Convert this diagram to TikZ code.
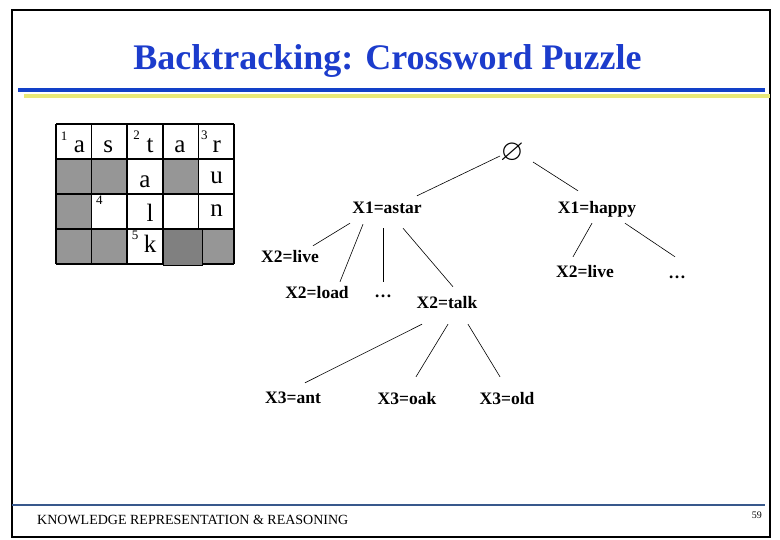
\documentclass[tikz,border=0pt]{standalone}
\usepackage{fontspec}
\setmainfont{Liberation Serif}
\usepackage{amssymb}
\usepackage{tikz}

\definecolor{titleblue}{RGB}{28,60,204}
\definecolor{barblue}{RGB}{18,64,200}
\definecolor{baryellow}{RGB}{232,232,120}
\definecolor{footblue}{RGB}{56,88,140}
\definecolor{cellgray}{RGB}{150,150,150}
\definecolor{celldark}{RGB}{128,128,128}

\begin{document}
\begin{tikzpicture}[x=1pt,y=-1pt]
			\tikzstyle{every node}=[inner sep=0pt]
			\tikzstyle{state}=[font=\fontsize{17.5}{19}\selectfont\bfseries, text height=12pt, text depth=0pt]
			\tikzstyle{letter}=[font=\fontsize{25}{27}\selectfont, anchor=base]
			\tikzstyle{clue}=[font=\fontsize{13}{14}\selectfont]
			\tikzstyle{gridline}=[line width=1.6pt, black]
			\tikzstyle{branch}=[line width=0.6pt, black]
			\useasboundingbox (0,0) rectangle (780,540);
			\draw[line width=1.2pt] (12,10) rectangle (770,537);

			\node[anchor=base, text=titleblue, font=\fontsize{36}{40}\selectfont\bfseries] (title) at (387.5,69.5) {Backtracking: Crossword Puzzle};
			\draw[barblue, line width=3.6pt] (18,90) -- (765,90);
			\draw[baryellow, line width=4pt] (24,96) -- (770,96);

			% the grid
			\foreach \c/\r in {0/1,1/1,3/1,0/2,0/3,1/3,4/3}
				\fill[cellgray] ({56+35.6*\c},{124+35*\r}) rectangle ++(35.6,35);
			\foreach \c in {0,...,5}
				\draw[gridline] ({56+35.6*\c},124) -- ++(0,140);
			\foreach \r in {0,...,4}
				\draw[gridline] (56,{124+35*\r}) -- ++(178,0);
			\filldraw[celldark, draw=black, line width=1.2pt] (163.3,229.3) rectangle (202.3,265.7);

			\node[clue] (n1) at (64,136) {1};
			\node[clue] (n2) at (136.7,135) {2};
			\node[clue] (n3) at (204.3,135) {3};
			\node[clue] (n4) at (99.3,200.7) {4};
			\node[clue] (n5) at (135,235) {5};
			\node[letter] (g11) at (79.3,153) {a};
			\node[letter] (g12) at (108.3,153) {s};
			\node[letter] (g13) at (150,153) {t};
			\node[letter] (g14) at (180,153) {a};
			\node[letter] (g15) at (216.7,153) {r};
			\node[letter] (g23) at (145,188) {a};
			\node[letter] (g25) at (216.7,184) {u};
			\node[letter] (g33) at (150,221.7) {l};
			\node[letter] (g35) at (216.7,216.7) {n};
			\node[letter] (g43) at (150,253) {k};

			% the search tree
			\node[font=\fontsize{30}{32}\selectfont] (root) at (512,153) {$\varnothing$};
			\node[state] (astar) at (387,208) {X1=astar};
			\node[state] (happy) at (597,208) {X1=happy};
			\node[state] (liveA) at (290,257) {X2=live};
			\node[state] (load) at (317,293) {X2=load};
			\node[state] (dotsA) at (383,292) {\dots};
			\node[state] (talk) at (447,303) {X2=talk};
			\node[state] (liveB) at (585,272) {X2=live};
			\node[state] (dotsB) at (677,273) {\dots};
			\node[state] (ant) at (293,397) {X3=ant};
			\node[state] (oak) at (407,398) {X3=oak};
			\node[state] (old) at (507,398) {X3=old};

			\draw[branch] ([shift={(-12,3)}]root.center) -- ([shift={(30,-6)}]astar.north);
			\draw[branch] ([shift={(21,9)}]root.center) -- ([shift={(-19,-11)}]happy.north);
			\draw[branch] ([shift={(-37,9)}]astar.south) -- ([shift={(23,-5)}]liveA.north);
			\draw[branch] ([shift={(-24,10)}]astar.south) -- ([shift={(23,-5)}]load.north);
			\draw[branch] ([shift={(-4,14)}]astar.south) -- ([shift={(0,-4)}]dotsA.north);
			\draw[branch] ([shift={(16,14)}]astar.south) -- ([shift={(6,-10)}]talk.north);
			\draw[branch] ([shift={(-5,9)}]happy.south) -- ([shift={(-12,-9)}]liveB.north);
			\draw[branch] ([shift={(28,9)}]happy.south) -- ([shift={(-2,-10)}]dotsB.north);
			\draw[branch] ([shift={(-25,15)}]talk.south) -- ([shift={(12,-8)}]ant.north);
			\draw[branch] ([shift={(1,15)}]talk.south) -- ([shift={(9,-15)}]oak.north);
			\draw[branch] ([shift={(21,15)}]talk.south) -- ([shift={(-7,-15)}]old.north);

			% footer
			\draw[footblue, line width=2pt] (12,505) -- (765,505);
			\node[anchor=base west, font=\fontsize{14}{15}\selectfont] (foot) at (37,524) {KNOWLEDGE REPRESENTATION \& REASONING};
			\node[anchor=base east, font=\fontsize{10}{11}\selectfont] (page) at (762,518) {59};
		\end{tikzpicture}
\end{document}
